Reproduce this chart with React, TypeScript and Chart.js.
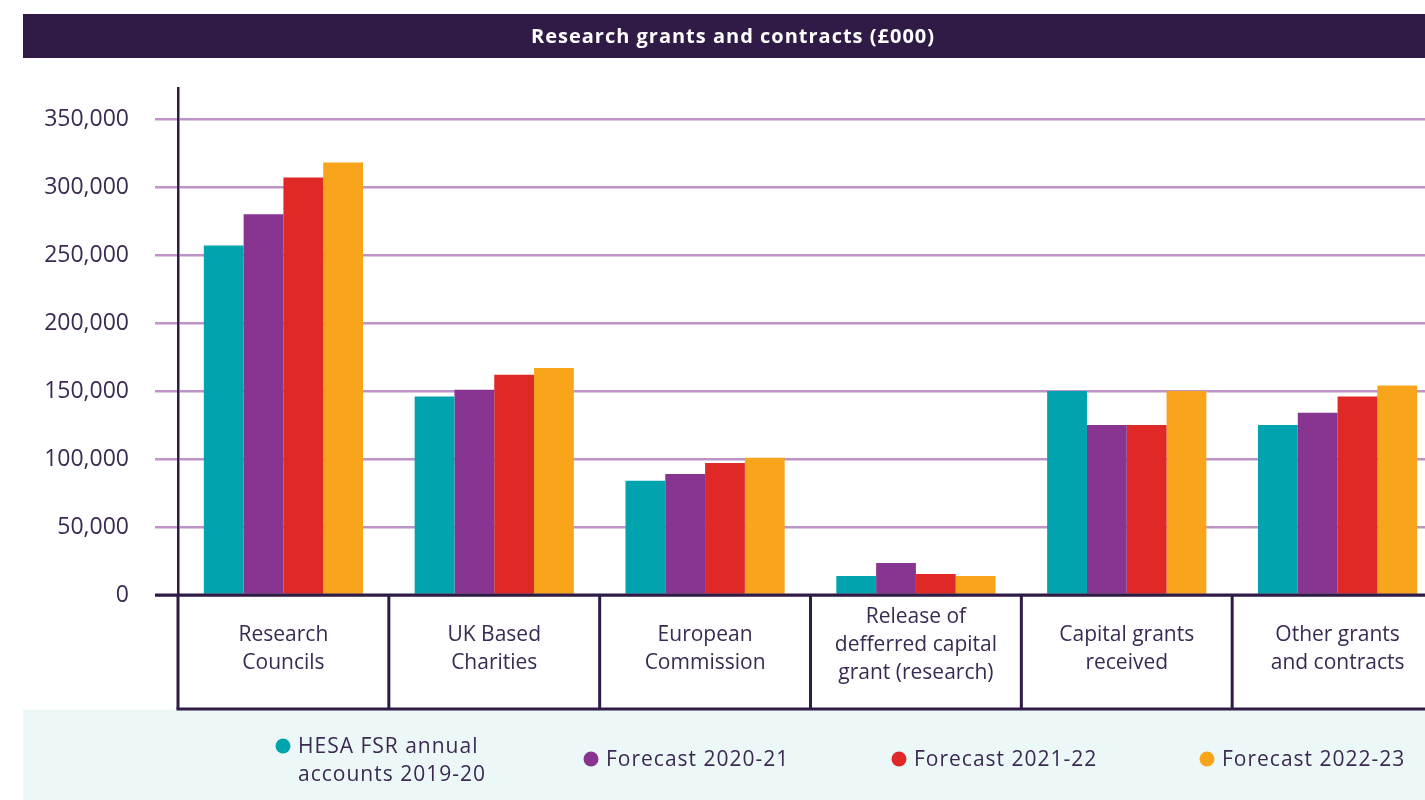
import React, { useEffect, useRef } from "react";
import { Chart, registerables } from "chart.js";

Chart.register(...registerables);

const TITLE = "Research grants and contracts (£000)";
const categories = [
  ["Research", "Councils"],
  ["UK Based", "Charities"],
  ["European", "Commission"],
  ["Release of", "defferred capital", "grant (research)"],
  ["Capital grants", "received"],
  ["Other grants", "and contracts"],
];
const seriesNames = [
  ["HESA FSR annual", "accounts 2019-20"],
  ["Forecast 2020-21"],
  ["Forecast 2021-22"],
  ["Forecast 2022-23"],
];
const hesa2019 = [257000, 146000, 84000, 14000, 150000, 125000];
const fc2020 = [280000, 151000, 89000, 23500, 125000, 134000];
const fc2021 = [307000, 162000, 97000, 15500, 125000, 146000];
const fc2022 = [318000, 167000, 101000, 14000, 150000, 154000];
const yTicks = [0, 50000, 100000, 150000, 200000, 250000, 300000, 350000];

const COLORS = ["#00A3AE", "#873591", "#E02826", "#F9A51B"];
const DARK = "#2F1B46";
const TEXT = "#3A2A52";
const GRID = "#BE93C6";
const FONT = "'Open Sans', sans-serif";

const decor = {
  id: "decor",
  beforeDraw(chart: any) {
    const { ctx, chartArea } = chart;
    ctx.save();
    ctx.fillStyle = DARK;
    ctx.fillRect(23, 14, chart.width - 23, 44);
    ctx.fillStyle = "#FFFFFF";
    ctx.font = `bold 20px ${FONT}`;
    (ctx as any).letterSpacing = "1px";
    ctx.textAlign = "center";
    ctx.textBaseline = "middle";
    ctx.fillText(TITLE, (23 + chartArea.right) / 2, 37);
    ctx.fillStyle = "#ECF7F7";
    ctx.fillRect(23, 710, chart.width - 23, 90);
    ctx.restore();
  },
  afterDraw(chart: any) {
    const { ctx, chartArea, scales } = chart;
    const x = scales.x;
    const half = (x.getPixelForValue(1) - x.getPixelForValue(0)) / 2;
    const bottom = 709;
    ctx.save();
    ctx.strokeStyle = DARK;
    ctx.lineWidth = 3;
    // baseline
    ctx.beginPath();
    ctx.moveTo(chartArea.left - 23, chartArea.bottom);
    ctx.lineTo(chart.width, chartArea.bottom);
    ctx.stroke();
    // table verticals
    for (let i = 0; i <= categories.length; i++) {
      const bx = x.getPixelForValue(0) - half + i * half * 2;
      ctx.beginPath();
      ctx.moveTo(bx, chartArea.bottom);
      ctx.lineTo(bx, bottom);
      ctx.stroke();
    }
    ctx.beginPath();
    ctx.moveTo(x.getPixelForValue(0) - half - 1.5, bottom);
    ctx.lineTo(chart.width, bottom);
    ctx.stroke();
    // category labels
    ctx.fillStyle = TEXT;
    ctx.font = `21px ${FONT}`;
    ctx.textAlign = "center";
    ctx.textBaseline = "middle";
    categories.forEach((lines, i) => {
      const cx = x.getPixelForValue(i);
      const n = lines.length;
      const cy = 649 - (n - 2) * 4;
      const y0 = cy - ((n - 1) * 28) / 2;
      lines.forEach((l, j) => ctx.fillText(l, cx, y0 + j * 28));
    });
    // legend
    (ctx as any).letterSpacing = "1px";
    ctx.textAlign = "left";
    chart.data.datasets.forEach((ds: any, i: number) => {
      const lx = 283 + i * 308;
      const lines = seriesNames[i];
      const cy = lines.length > 1 ? 746 : 759;
      ctx.fillStyle = ds.backgroundColor;
      ctx.beginPath();
      ctx.arc(lx, cy, 7.5, 0, Math.PI * 2);
      ctx.fill();
      ctx.fillStyle = TEXT;
      lines.forEach((l, j) => ctx.fillText(l, lx + 15, cy + 1 + j * 28));
    });
    ctx.restore();
  },
};

export default function App() {
  const ref = useRef<HTMLCanvasElement>(null);
  useEffect(() => {
    if (!ref.current) return;
    const chart = new Chart(ref.current, {
      type: "bar",
      data: {
        labels: categories.map((c) => c.join(" ")),
        datasets: [hesa2019, fc2020, fc2021, fc2022].map((d, i) => ({
          label: seriesNames[i].join(" "),
          data: d,
          backgroundColor: COLORS[i],
          borderWidth: 0,
          categoryPercentage: 0.755,
          barPercentage: 1.0,
        })),
      },
      options: {
        animation: false,
        responsive: false,
        devicePixelRatio: 1,
        layout: { padding: { top: 88, right: 17, left: 0, bottom: 0 } },
        plugins: {
          legend: { display: false },
          title: { display: false },
          tooltip: { enabled: false },
        },
        scales: {
          x: {
            grid: { display: false },
            border: { display: false },
            ticks: { display: false },
            afterFit: (s: any) => {
              s.height = 205;
            },
          },
          y: {
            min: 0,
            max: 372800,
            afterBuildTicks: (s: any) => {
              s.ticks = yTicks.map((v) => ({ value: v }));
            },
            afterFit: (s: any) => {
              s.width = 178;
            },
            grid: {
              color: (c: any) => (c.tick && c.tick.value === 0 ? DARK : GRID),
              lineWidth: 2.5,
              tickLength: 23,
            },
            border: { display: true, color: DARK, width: 2.5 },
            ticks: {
              padding: 26,
              color: TEXT,
              font: { family: FONT, size: 23 },
              callback: (v: any) => Number(v).toLocaleString("en-GB"),
            },
          },
        },
      },
      plugins: [decor],
    });
    return () => chart.destroy();
  }, []);
  return (
    <div
      style={{
        position: "fixed",
        left: 0,
        top: 0,
        width: 1425,
        height: 800,
        overflow: "hidden",
        background: "#FFFFFF",
      }}
    >
      <canvas ref={ref} width={1460} height={800} style={{ display: "block", width: 1460, height: 800 }} />
    </div>
  );
}
